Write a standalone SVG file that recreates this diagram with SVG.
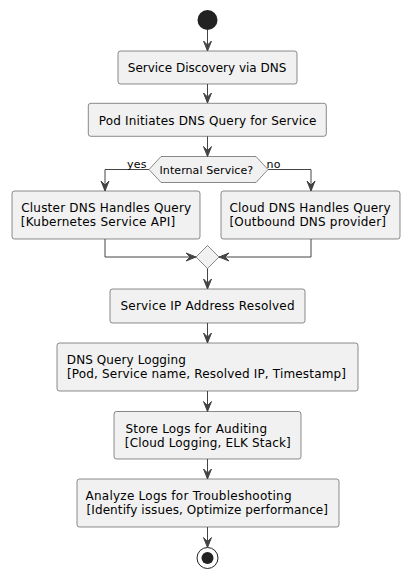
<svg xmlns="http://www.w3.org/2000/svg" width="410" height="579" viewBox="0 0 410 579">
<style>
.box{fill:#F1F1F1;stroke:#181818;stroke-width:0.5}
.t{font-family:"DejaVu Sans",sans-serif;font-size:12px;fill:#000}
.s{font-family:"DejaVu Sans",sans-serif;font-size:11px;fill:#000}
.ln{fill:none;stroke:#444444;stroke-width:1}
.ah{fill:#444444;stroke:#444444;stroke-width:1}
</style>
<rect width="410" height="579" fill="#FFFFFF"/>
<g id="start"><circle cx="207.5" cy="20" r="10" fill="#222222"/></g>
<g id="n1"><rect class="box" x="118" y="51" width="179" height="33" rx="2.5"/><text class="t" x="127.8" y="72" textLength="158.5" lengthAdjust="spacing">Service Discovery via DNS</text></g>
<g id="n2"><rect class="box" x="88.3" y="103.3" width="238" height="33" rx="2.5"/><text class="t" x="98.8" y="125" textLength="217.7" lengthAdjust="spacing">Pod Initiates DNS Query for Service</text></g>
<g id="d1"><polygon class="box" points="149,169.5 161,156.5 256,156.5 268,169.5 256,182.5 161,182.5"/><text class="s" x="159.5" y="174" textLength="93.7" lengthAdjust="spacing">Internal Service?</text></g>
<g id="n3"><rect class="box" x="12" y="191" width="188" height="48" rx="2.5"/><text class="t" x="21.2" y="212" textLength="170" lengthAdjust="spacing">Cluster DNS Handles Query</text><text class="t" x="20.8" y="226" textLength="154.5" lengthAdjust="spacing">[Kubernetes Service API]</text></g>
<g id="n4"><rect class="box" x="221" y="191" width="179" height="48" rx="2.5"/><text class="t" x="229.5" y="212" textLength="161" lengthAdjust="spacing">Cloud DNS Handles Query</text><text class="t" x="229.5" y="226" textLength="156.5" lengthAdjust="spacing">[Outbound DNS provider]</text></g>
<g id="m1"><polygon class="box" points="196,257 207.5,245.5 219,257 207.5,268.5"/></g>
<g id="n5"><rect class="box" x="110" y="289" width="195" height="34" rx="2.5"/><text class="t" x="120.5" y="310" textLength="174" lengthAdjust="spacing">Service IP Address Resolved</text></g>
<g id="n6"><rect class="box" x="57" y="343" width="301" height="48" rx="2.5"/><text class="t" x="66.8" y="364" textLength="119" lengthAdjust="spacing">DNS Query Logging</text><text class="t" x="67" y="378" textLength="279" lengthAdjust="spacing">[Pod, Service name, Resolved IP, Timestamp]</text></g>
<g id="n7"><rect class="box" x="114" y="411.5" width="187" height="47.5" rx="2.5"/><text class="t" x="125.5" y="432.5" textLength="141.5" lengthAdjust="spacing">Store Logs for Auditing</text><text class="t" x="124.8" y="446.5" textLength="166" lengthAdjust="spacing">[Cloud Logging, ELK Stack]</text></g>
<g id="n8"><rect class="box" x="77" y="479" width="262" height="48" rx="2.5"/><text class="t" x="85.5" y="500" textLength="206" lengthAdjust="spacing">Analyze Logs for Troubleshooting</text><text class="t" x="86.5" y="514" textLength="241.5" lengthAdjust="spacing">[Identify issues, Optimize performance]</text></g>
<g id="end"><circle cx="207.5" cy="558" r="10.5" fill="none" stroke="#222222" stroke-width="1"/><circle cx="207.5" cy="558" r="6" fill="#222222"/></g>
<g id="connectors">
<path class="ln" d="M207.5,30 V51"/><polygon class="ah" points="203.5,41 207.5,51 211.5,41 207.5,45"/>
<path class="ln" d="M207.5,84 V103"/><polygon class="ah" points="203.5,93 207.5,103 211.5,93 207.5,97"/>
<path class="ln" d="M207.5,136.3 V156.5"/><polygon class="ah" points="203.5,146.5 207.5,156.5 211.5,146.5 207.5,150.5"/>
<path class="ln" d="M149,169.5 H105 V191"/><polygon class="ah" points="101,181 105,191 109,181 105,185"/>
<text class="s" x="127" y="168" textLength="19.5" lengthAdjust="spacing">yes</text>
<path class="ln" d="M268,169.5 H311 V191"/><polygon class="ah" points="307,181 311,191 315,181 311,185"/>
<text class="s" x="266.5" y="168" textLength="14" lengthAdjust="spacing">no</text>
<path class="ln" d="M105,239 V257 H196"/><polygon class="ah" points="186,253 196,257 186,261 190,257"/>
<path class="ln" d="M311,239 V257 H219"/><polygon class="ah" points="229,253 219,257 229,261 225,257"/>
<path class="ln" d="M207.5,268.5 V289"/><polygon class="ah" points="203.5,279 207.5,289 211.5,279 207.5,283"/>
<path class="ln" d="M207.5,323 V343"/><polygon class="ah" points="203.5,333 207.5,343 211.5,333 207.5,337"/>
<path class="ln" d="M207.5,391 V411.5"/><polygon class="ah" points="203.5,401.5 207.5,411.5 211.5,401.5 207.5,405.5"/>
<path class="ln" d="M207.5,459 V479"/><polygon class="ah" points="203.5,469 207.5,479 211.5,469 207.5,473"/>
<path class="ln" d="M207.5,527 V547.5"/><polygon class="ah" points="203.5,537.5 207.5,547.5 211.5,537.5 207.5,541.5"/>
</g>
</svg>
